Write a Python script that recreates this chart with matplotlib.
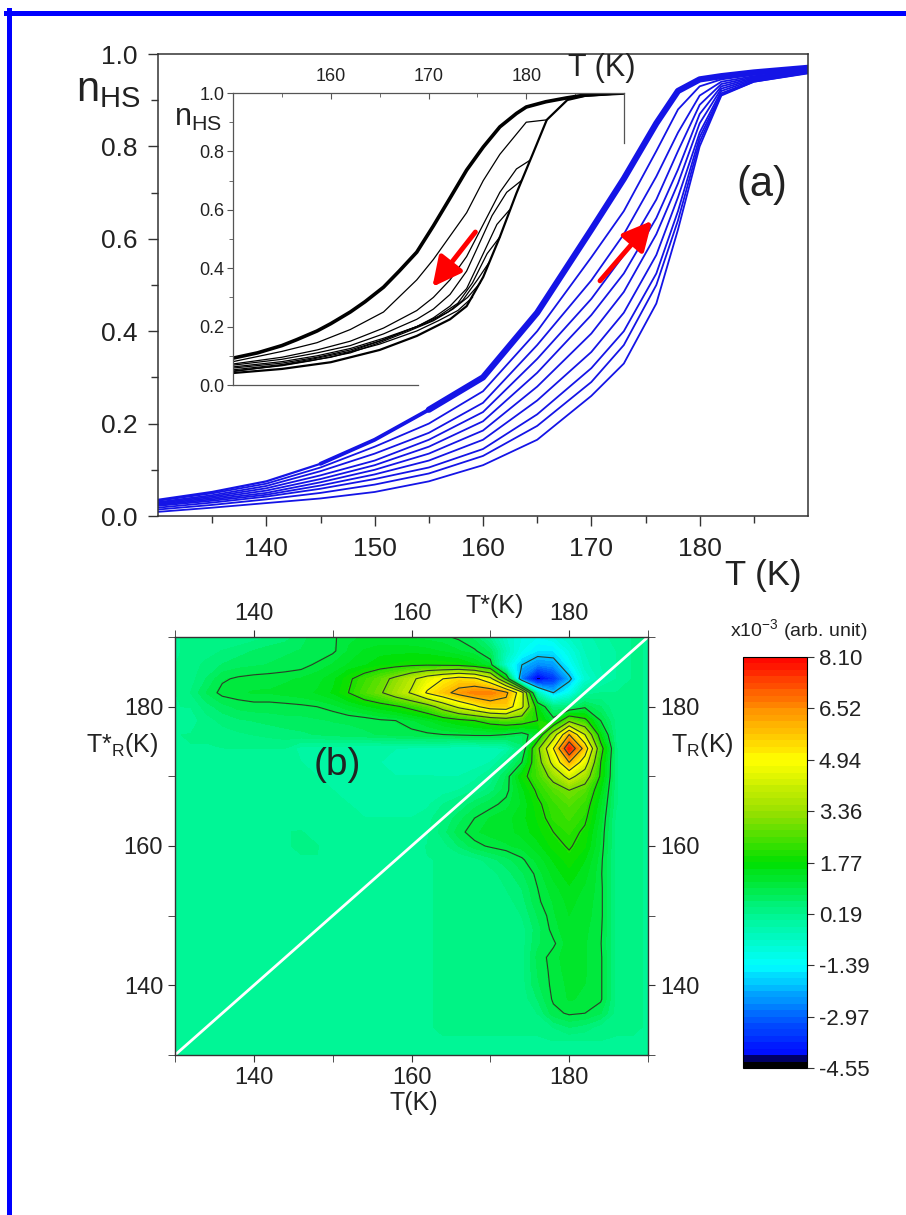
import numpy as np
import matplotlib
matplotlib.use('Agg')
import matplotlib.pyplot as plt
from matplotlib.colors import LinearSegmentedColormap
from matplotlib.lines import Line2D

plt.rcParams['font.family'] = ['Liberation Sans', 'DejaVu Sans']
plt.rcParams['mathtext.default'] = 'regular'

# ---------------- panel (a): heating curves ----------------
T_heat = [130, 135, 140, 145, 150, 155, 160, 165, 170, 173, 176, 178, 180, 182, 185, 190]
n_band = [0.035, 0.052, 0.075, 0.113, 0.165, 0.23, 0.30, 0.44, 0.62, 0.73, 0.85, 0.92, 0.945, 0.952, 0.96, 0.97]
n_heat = [
    [0.033, 0.049, 0.070, 0.105, 0.150, 0.200, 0.270, 0.400, 0.560, 0.660, 0.790, 0.880, 0.930, 0.945, 0.955, 0.967],
    [0.030, 0.045, 0.065, 0.097, 0.135, 0.180, 0.245, 0.370, 0.510, 0.610, 0.735, 0.830, 0.910, 0.940, 0.952, 0.965],
    [0.028, 0.042, 0.060, 0.088, 0.120, 0.165, 0.225, 0.340, 0.470, 0.565, 0.685, 0.790, 0.890, 0.935, 0.950, 0.964],
    [0.026, 0.039, 0.055, 0.080, 0.110, 0.150, 0.205, 0.310, 0.435, 0.525, 0.645, 0.750, 0.870, 0.930, 0.948, 0.963],
    [0.024, 0.036, 0.050, 0.073, 0.100, 0.135, 0.185, 0.280, 0.395, 0.485, 0.610, 0.720, 0.850, 0.925, 0.946, 0.962],
    [0.022, 0.033, 0.046, 0.066, 0.090, 0.120, 0.165, 0.250, 0.355, 0.440, 0.565, 0.690, 0.830, 0.920, 0.944, 0.961],
    [0.018, 0.029, 0.042, 0.059, 0.080, 0.105, 0.145, 0.220, 0.320, 0.400, 0.525, 0.660, 0.820, 0.915, 0.942, 0.960],
    [0.014, 0.024, 0.036, 0.050, 0.068, 0.092, 0.130, 0.195, 0.290, 0.370, 0.500, 0.640, 0.810, 0.912, 0.940, 0.959],
    [0.009, 0.018, 0.028, 0.038, 0.052, 0.075, 0.110, 0.165, 0.260, 0.330, 0.460, 0.620, 0.800, 0.910, 0.940, 0.958],
]

# ---------------- inset: cooling curves ----------------
inset_up_T = [190, 186, 184.1, 182, 180, 179, 177.3, 175.6, 173.9, 172.2, 170.5, 168.8, 167, 165.4,
              163.5, 162, 160, 158.6, 156.5, 155, 152.5, 150]
inset_up_n = [1.0, 0.993, 0.983, 0.97, 0.952, 0.93, 0.884, 0.815, 0.736, 0.64, 0.545, 0.455, 0.39,
              0.335, 0.285, 0.25, 0.21, 0.185, 0.155, 0.135, 0.11, 0.092]
inset_lo_T = [150, 155, 160, 165, 168.8, 172.2, 173.9, 175.6, 177.3, 179, 180.7, 182.1, 184.2, 186, 190]
inset_lo_n = [0.041, 0.055, 0.078, 0.12, 0.168, 0.225, 0.27, 0.37, 0.507, 0.657, 0.794, 0.908, 0.976, 0.99, 1.0]
inset_forc_T = [
    [182.1, 180, 177.3, 175.6, 173.9, 172.2, 170.5, 168.8, 165.4, 162, 158.6, 155, 150],
    [180.4, 179, 177.3, 175.6, 173.9, 172.2, 170.5, 168.8, 165.4, 162, 158.6, 155, 150],
    [179.5, 178, 176.5, 175, 173.9, 172.2, 170.5, 168.8, 165.4, 162, 158.6, 155, 150],
    [178.3, 177, 175.6, 173.9, 172.2, 170.5, 168.8, 165.4, 162, 158.6, 155, 150],
    [177.3, 176, 174.5, 173, 171, 168.8, 165.4, 162, 158.6, 155, 150],
    [176.2, 175, 173.5, 172, 170, 168, 165, 162, 158, 155, 150],
    [175.3, 174, 172.5, 170.5, 168, 165, 162, 158, 155, 150],
    [174.5, 173, 171, 168.8, 165, 160, 155, 150],
]
inset_forc_n = [
    [0.908, 0.90, 0.79, 0.70, 0.59, 0.51, 0.43, 0.36, 0.25, 0.19, 0.145, 0.115, 0.08],
    [0.77, 0.74, 0.66, 0.55, 0.44, 0.36, 0.30, 0.255, 0.195, 0.15, 0.12, 0.095, 0.072],
    [0.70, 0.66, 0.58, 0.47, 0.39, 0.31, 0.26, 0.225, 0.175, 0.135, 0.11, 0.088, 0.068],
    [0.60, 0.55, 0.45, 0.33, 0.27, 0.23, 0.20, 0.16, 0.125, 0.10, 0.08, 0.062],
    [0.507, 0.45, 0.35, 0.28, 0.235, 0.20, 0.155, 0.12, 0.095, 0.075, 0.058],
    [0.42, 0.36, 0.29, 0.25, 0.215, 0.19, 0.15, 0.115, 0.088, 0.07, 0.052],
    [0.35, 0.30, 0.26, 0.22, 0.185, 0.145, 0.11, 0.083, 0.066, 0.048],
    [0.30, 0.255, 0.22, 0.185, 0.14, 0.095, 0.068, 0.046],
]

# ---------------- panel (b): FORC distribution (x1e-3) ----------------
bg_level = 0.19
# patch A : T = 132..188, T*_R = 176..190 (rows listed from 176 up)
patchA_T = list(range(132, 189, 2))
patchA_R = [176, 178, 180, 182, 184, 186, 188, 190]
patchA = [
    [0.2, 0.2, 0.3, 0.35, 0.4, 0.45, 0.5, 0.55, 0.6, 0.65, 0.7, 0.75, 0.8, 0.85, 0.9, 0.95, 1.0, 1.05, 1.1, 1.1, 1.0, 0.8, 1.3, 3.5, 6.0, 4.0, 1.6, 0.3, 0.2],
    [0.1, 0.3, 0.45, 0.55, 0.6, 0.65, 0.7, 0.7, 0.75, 0.8, 0.82, 0.85, 0.95, 1.0, 1.15, 1.35, 1.6, 1.8, 2.0, 2.3, 2.5, 2.4, 2.0, 1.2, 2.8, 2.2, 1.0, 0.3, 0.2],
    [0.2, 0.5, 0.7, 0.85, 0.9, 0.9, 0.92, 0.95, 1.0, 1.1, 1.3, 1.5, 1.7, 1.9, 2.2, 2.6, 3.4, 4.2, 4.8, 5.5, 5.6, 4.2, 1.6, 0.3, 0.4, 0.9, 0.6, 0.2, 0.2],
    [0.4, 0.8, 1.1, 1.15, 1.2, 1.2, 1.25, 1.3, 1.4, 1.6, 2.0, 2.5, 2.9, 3.5, 4.1, 5.1, 5.7, 6.3, 6.7, 6.7, 6.2, 4.4, -0.5, -2.0, -1.2, 0.0, 0.2, 0.2, 0.2],
    [0.3, 0.6, 0.95, 1.05, 1.1, 1.12, 1.15, 1.2, 1.3, 1.5, 1.9, 2.3, 2.7, 3.2, 3.8, 4.5, 5.0, 5.4, 5.2, 4.3, 1.8, -2.8, -4.4, -3.6, -2.2, -0.8, -0.3, 0.0, 0.2],
    [0.3, 0.45, 0.6, 0.7, 0.75, 0.8, 0.85, 0.9, 1.05, 1.2, 1.4, 1.55, 1.7, 1.8, 1.9, 1.95, 1.9, 1.85, 1.6, 1.2, -0.8, -2.0, -2.6, -2.4, -1.4, -0.5, -0.2, 0.0, 0.2],
    [0.2, 0.3, 0.4, 0.5, 0.6, 0.7, 0.75, 0.8, 0.8, 0.95, 1.2, 1.4, 1.5, 1.5, 1.5, 1.45, 1.35, 1.2, 1.05, 0.7, -0.4, -1.2, -1.6, -1.6, -1.0, -0.4, -0.2, 0.0, 0.2],
    [0.2, 0.2, 0.2, 0.2, 0.3, 0.4, 0.5, 0.7, 0.9, 0.95, 1.15, 1.2, 1.2, 1.2, 1.15, 1.1, 1.05, 0.95, 0.7, 0.1, -0.6, -1.0, -1.2, -1.0, -0.6, -0.3, -0.1, 0.1, 0.2],
]
# patch B : T = 164..188, T*_R = 134..174
patchB_T = list(range(164, 189, 2))
patchB_R = list(range(134, 175, 2))
patchB = [
    [0.2, 0.2, 0.2, 0.2, 0.2, 0.2, 0.2, 0.4, 0.6, 0.5, 0.3, 0.2, 0.2],
    [0.2, 0.2, 0.2, 0.2, 0.2, 0.2, 0.4, 0.9, 1.05, 1.0, 0.8, 0.3, 0.2],
    [0.2, 0.2, 0.2, 0.2, 0.2, 0.25, 0.6, 1.05, 1.2, 1.15, 1.05, 0.3, 0.2],
    [0.2, 0.2, 0.2, 0.2, 0.2, 0.3, 0.75, 1.08, 1.22, 1.18, 1.05, 0.3, 0.2],
    [0.2, 0.2, 0.2, 0.2, 0.2, 0.3, 0.8, 1.1, 1.25, 1.2, 1.05, 0.3, 0.2],
    [0.2, 0.2, 0.2, 0.2, 0.2, 0.3, 0.85, 1.12, 1.28, 1.2, 1.05, 0.3, 0.2],
    [0.2, 0.2, 0.2, 0.2, 0.2, 0.3, 0.75, 0.95, 1.3, 1.2, 1.02, 0.3, 0.2],
    [0.2, 0.2, 0.2, 0.2, 0.2, 0.3, 0.7, 1.1, 1.32, 1.22, 1.05, 0.3, 0.2],
    [0.2, 0.2, 0.2, 0.2, 0.2, 0.4, 0.8, 1.15, 1.38, 1.25, 1.08, 0.3, 0.2],
    [0.2, 0.2, 0.2, 0.2, 0.3, 0.5, 0.95, 1.2, 1.45, 1.28, 1.08, 0.3, 0.2],
    [0.2, 0.2, 0.2, 0.2, 0.4, 0.6, 1.0, 1.3, 1.55, 1.35, 1.08, 0.3, 0.2],
    [0.2, 0.2, 0.2, 0.3, 0.5, 0.75, 1.08, 1.45, 1.7, 1.45, 1.05, 0.3, 0.2],
    [0.2, 0.2, 0.3, 0.5, 0.7, 0.95, 1.25, 1.6, 1.88, 1.58, 1.08, 0.3, 0.2],
    [0.3, 0.6, 0.9, 1.05, 1.15, 1.25, 1.5, 1.85, 2.05, 1.8, 1.15, 0.3, 0.2],
    [0.5, 0.9, 1.15, 1.25, 1.3, 1.45, 1.7, 2.0, 2.2, 1.9, 1.2, 0.3, 0.2],
    [0.4, 0.7, 1.0, 1.2, 1.3, 1.5, 1.8, 2.2, 2.4, 2.1, 1.3, 0.3, 0.2],
    [0.2, 0.4, 0.7, 0.9, 1.1, 1.4, 1.9, 2.3, 2.6, 2.3, 1.4, 0.4, 0.2],
    [-0.1, 0.0, 0.2, 0.5, 0.9, 1.5, 2.1, 2.6, 3.0, 2.6, 1.6, 0.4, 0.2],
    [-0.2, -0.2, -0.1, 0.2, 0.8, 1.8, 2.4, 3.3, 4.3, 3.5, 1.9, 0.4, 0.2],
    [-0.3, -0.3, -0.3, -0.2, 0.3, 1.0, 2.6, 4.3, 6.0, 4.5, 2.0, 0.4, 0.2],
    [-0.3, -0.4, -0.4, -0.3, -0.2, 0.5, 2.8, 5.0, 7.9, 5.6, 2.3, 0.4, 0.2],
]
# patch C : faint cyan region above the diagonal, T = 146..162, T*_R = 160..174
patchC_T = list(range(146, 163, 2))
patchC_R = list(range(160, 175, 2))
patchC = [
    [0.2, 0.2, 0.15, 0.15, 0.1, 0.1, 0.1, 0.15, 0.2],
    [0.2, 0.15, 0.15, 0.1, 0.05, 0.05, 0.05, 0.1, 0.15],
    [0.15, 0.15, 0.1, 0.05, 0.0, 0.0, 0.0, 0.0, 0.1],
    [0.15, 0.1, 0.05, 0.0, -0.05, -0.1, -0.1, -0.1, -0.05],
    [0.1, 0.05, 0.0, -0.1, -0.1, -0.15, -0.2, -0.2, -0.15],
    [0.05, 0.0, -0.1, -0.1, -0.15, -0.2, -0.2, -0.2, -0.2],
    [0.0, -0.1, -0.1, -0.15, -0.2, -0.2, -0.25, -0.25, -0.25],
    [-0.1, -0.1, -0.1, -0.15, -0.2, -0.2, -0.2, -0.25, -0.25],
]
cbar_ticks = [-4.55, -2.97, -1.39, 0.19, 1.77, 3.36, 4.94, 6.52, 8.10]
cbar_labels = ['-4.55', '-2.97', '-1.39', '0.19', '1.77', '3.36', '4.94', '6.52', '8.10']
contour_levels = [-2.0, 1.0, 2.0, 3.0, 4.0, 5.0, 6.0, 7.0]
diag = [130, 190]

# assemble the grid
grid_T = np.arange(130, 191, 2)
grid_R = np.arange(130, 191, 2)
Z = np.full((len(grid_R), len(grid_T)), bg_level)
for pT, pR, vals in [(patchB_T, patchB_R, patchB), (patchC_T, patchC_R, patchC),
                     (patchA_T, patchA_R, patchA)]:
    i0 = (pT[0] - 130) // 2
    j0 = (pR[0] - 130) // 2
    arr = np.array(vals)
    Z[j0:j0 + arr.shape[0], i0:i0 + arr.shape[1]] = arr

W, H = 906, 1215


def fx(px):
    return px / W


def fy(py):
    return 1 - py / H


fig = plt.figure(figsize=(W / 100, H / 100), dpi=100)
fig.patch.set_facecolor('white')

# blue frame (left and top edges)
fig.add_artist(Line2D([fx(6), 1.0], [fy(12.5), fy(12.5)], transform=fig.transFigure,
                      color='#0000ff', lw=3.6))
fig.add_artist(Line2D([fx(8.5), fx(8.5)], [fy(10), 0.0], transform=fig.transFigure,
                      color='#0000ff', lw=3.6))

spine_c = '#333333'

# ---------- panel (a) ----------
ax_a = fig.add_axes([fx(158), fy(516), (808 - 158) / W, (516 - 54) / H])
blue = '#1414e6'
for n in n_heat:
    ax_a.plot(T_heat, n, color=blue, lw=1.3)
ax_a.plot(T_heat, n_band, color=blue, lw=1.6)
# the band gets thicker where many curves pile up
ax_a.plot(T_heat[3:], n_band[3:], color=blue, lw=2.8, solid_capstyle='round',
          solid_joinstyle='round')
ax_a.plot(T_heat[5:], n_band[5:], color=blue, lw=4.5, solid_capstyle='round',
          solid_joinstyle='round')
ax_a.set_xlim(130, 190)
ax_a.set_ylim(0, 1.0)
ax_a.set_xticks([140, 150, 160, 170, 180])
ax_a.set_xticks([135, 145, 155, 165, 175, 185], minor=True)
ax_a.set_yticks([0.0, 0.2, 0.4, 0.6, 0.8, 1.0])
ax_a.set_yticklabels(['0.0', '0.2', '0.4', '0.6', '0.8', '1.0'])
ax_a.set_yticks([0.1, 0.3, 0.5, 0.7, 0.9], minor=True)
ax_a.tick_params(which='both', direction='out', top=False, right=False, colors=spine_c,
                 labelcolor='#222222', labelsize=19, width=1)
ax_a.tick_params(which='major', length=7, pad=8)
ax_a.tick_params(which='minor', length=5)
for s in ax_a.spines.values():
    s.set_color(spine_c)
    s.set_linewidth(1.1)

ax_a.annotate('', xy=(175.6, 0.639), xytext=(170.8, 0.509),
              arrowprops=dict(arrowstyle='-|>,head_length=1.1,head_width=0.55', color='red',
                              lw=3.5, mutation_scale=16, shrinkA=0, shrinkB=0))

fig.text(fx(763), fy(575), 'T (K)', ha='center', va='center', fontsize=25, color='#222222')
fig.text(fx(108), fy(90), r'n$_{HS}$', ha='center', va='center', fontsize=30, color='#222222')
fig.text(fx(762), fy(185), '(a)', ha='center', va='center', fontsize=30, color='#222222')

# ---------- inset ----------
ax_in = fig.add_axes([fx(233), fy(385), (624 - 233) / W, (385 - 93) / H])
ax_in.patch.set_alpha(0)
ax_in.plot(inset_lo_T, inset_lo_n, color='black', lw=1.6)
for tt, nn in zip(inset_forc_T, inset_forc_n):
    ax_in.plot(tt, nn, color='black', lw=0.9)
ax_in.plot(inset_up_T, inset_up_n, color='black', lw=2.6)
ax_in.annotate('', xy=(170.4, 0.336), xytext=(174.8, 0.524),
               arrowprops=dict(arrowstyle='-|>,head_length=1.1,head_width=0.55', color='red',
                               lw=3.5, mutation_scale=16, shrinkA=0, shrinkB=0))
ax_in.set_xlim(150, 190)
ax_in.set_ylim(0, 1.0)
ax_in.xaxis.tick_top()
ax_in.set_xticks([160, 170, 180])
ax_in.set_xticks([155, 165, 175, 185], minor=True)
ax_in.set_yticks([0.0, 0.2, 0.4, 0.6, 0.8, 1.0])
ax_in.set_yticklabels(['0.0', '0.2', '0.4', '0.6', '0.8', '1.0'])
ax_in.set_yticks([0.1, 0.3, 0.5, 0.7, 0.9], minor=True)
ax_in.tick_params(axis='x', which='both', direction='in', colors='#555555',
                  labelcolor='#222222', labelsize=13, pad=6)
ax_in.tick_params(axis='y', which='both', direction='out', colors='#555555',
                  labelcolor='#222222', labelsize=13, pad=2)
ax_in.tick_params(which='major', length=4)
ax_in.tick_params(which='minor', length=3)
ax_in.spines['right'].set_bounds(0.83, 1.0)
ax_in.spines['bottom'].set_bounds(150, 168.9)
for s in ax_in.spines.values():
    s.set_color('#555555')
    s.set_linewidth(0.9)
fig.text(fx(602), fy(68), 'T (K)', ha='center', va='center', fontsize=22, color='#222222')
fig.text(fx(198), fy(118), r'n$_{HS}$', ha='center', va='center', fontsize=22, color='#222222')

# ---------- panel (b) ----------
cmap = LinearSegmentedColormap.from_list('forc', [
    (0.0, '#000000'), (0.018, '#000000'), (0.022, '#0000ff'), (0.125, '#0060ff'),
    (0.25, '#00ffff'), (0.375, '#00f590'), (0.5, '#00e000'), (0.625, '#98e000'),
    (0.75, '#ffff00'), (0.875, '#ff9000'), (1.0, '#ff0000')])

ax_b = fig.add_axes([fx(175), fy(1055), (648 - 175) / W, (1055 - 637) / H])
fill_levels = np.linspace(cbar_ticks[0], cbar_ticks[-1], 65)
cf = ax_b.contourf(grid_T, grid_R, Z, levels=fill_levels, cmap=cmap)
ax_b.contour(grid_T, grid_R, Z, levels=contour_levels, colors='#2b3d2b', linewidths=0.8,
             linestyles='solid')
ax_b.plot(diag, diag, color='white', lw=2)
ax_b.set_xlim(130, 190)
ax_b.set_ylim(130, 190)
ax_b.set_xticks([140, 160, 180])
ax_b.set_xticks([130, 150, 170, 190], minor=True)
ax_b.set_yticks([140, 160, 180])
ax_b.set_yticks([130, 150, 170, 190], minor=True)
ax_b.tick_params(which='both', direction='out', top=True, labeltop=True, right=True,
                 labelright=True, length=5, colors='#333333', labelcolor='#222222',
                 labelsize=17)
for s in ax_b.spines.values():
    s.set_color('#333333')
    s.set_linewidth(1.0)

fig.text(fx(495), fy(606), 'T*(K)', ha='center', va='center', fontsize=18, color='#222222')
fig.text(fx(414), fy(1103), 'T(K)', ha='center', va='center', fontsize=18, color='#222222')
fig.text(fx(122), fy(745), r'T*$_R$(K)', ha='center', va='center', fontsize=18, color='#222222')
fig.text(fx(702), fy(745), r'T$_R$(K)', ha='center', va='center', fontsize=18, color='#222222')
fig.text(fx(337), fy(765), '(b)', ha='center', va='center', fontsize=28, color='#222222')

# colorbar
cax = fig.add_axes([fx(743), fy(1068), (807 - 743) / W, (1068 - 657) / H])
cb = fig.colorbar(cf, cax=cax, ticks=cbar_ticks)
cb.ax.set_yticklabels(cbar_labels)
cb.ax.tick_params(labelsize=16, length=5, colors='#333333', labelcolor='#222222')
cb.outline.set_linewidth(0.8)
fig.text(fx(799), fy(630), r'x10$^{-3}$ (arb. unit)', ha='center', va='center',
         fontsize=14, color='#222222')

fig.savefig('out.png', dpi=100)
